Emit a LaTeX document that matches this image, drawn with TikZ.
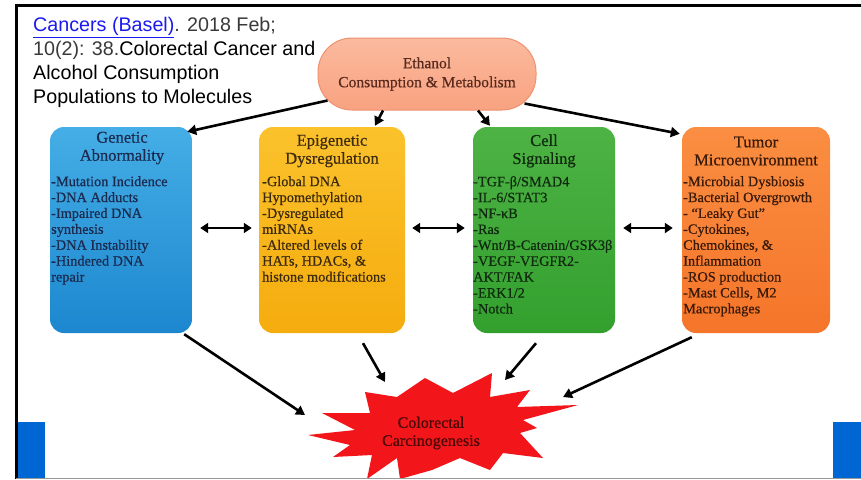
\documentclass[tikz,border=0pt]{standalone}
\usepackage{fontspec}
\setmainfont{Liberation Serif}
\newfontfamily\boxfont[FakeBold=0.5]{Liberation Serif}
\newfontfamily\hdrfont{Liberation Sans}
\usetikzlibrary{arrows.meta,calc}
\definecolor{linkblue}{HTML}{1A1AEE}
\definecolor{hdrgray}{HTML}{3A3A3A}
\definecolor{genTop}{HTML}{45AEE6}
\definecolor{genBot}{HTML}{1C87CF}
\definecolor{genTxt}{HTML}{1B2A4E}
\definecolor{epiTop}{HTML}{FBC22C}
\definecolor{epiBot}{HTML}{F5AC0E}
\definecolor{epiTxt}{HTML}{3B2A0E}
\definecolor{celTop}{HTML}{4DB344}
\definecolor{celBot}{HTML}{33A02E}
\definecolor{celTxt}{HTML}{0F2A0F}
\definecolor{tumTop}{HTML}{FA8E42}
\definecolor{tumBot}{HTML}{F5752A}
\definecolor{tumTxt}{HTML}{3A1A08}
\definecolor{ethTop}{HTML}{FBBA9E}
\definecolor{ethBot}{HTML}{F8A280}
\definecolor{ethLine}{HTML}{EE9270}
\definecolor{ethTxt}{HTML}{5A2A1E}
\definecolor{starRed}{HTML}{F2161A}
\definecolor{starTxt}{HTML}{4A0808}
\definecolor{slideBlue}{HTML}{0066D4}
\begin{document}
\begin{tikzpicture}[x=1pt,y=-1pt,
  catbox/.style={rounded corners=14pt, minimum width=#1, minimum height=206pt, inner sep=0pt},
  cattitle/.style={align=center, inner sep=0pt, font=\boxfont\fontsize{16.5}{18}\selectfont},
  catbody/.style={align=left, anchor=north west, inner sep=0pt, font=\boxfont\fontsize{14.3}{15.9}\selectfont},
  hdr/.style={anchor=base west, inner sep=0pt, font=\hdrfont\fontsize{19.7}{24}\selectfont},
  arr/.style={line width=2.6pt, -{Triangle[length=9pt,width=10pt]}},
  dbl/.style={line width=2.6pt, {Triangle[length=8pt,width=10pt]}-{Triangle[length=8pt,width=10pt]}}
]
\useasboundingbox (0,0) rectangle (861,479);
\fill[white] (0,0) rectangle (861,479);

% slide decoration
\fill[slideBlue] (16,422) rectangle (45,479);
\fill[slideBlue] (833,422) rectangle (861,479);
\draw[line width=2.6pt] (16.5,479) -- (16.5,5.5) -- (861,5.5);

% header
\node[hdr] (h1) at (33,31.5) {\textcolor{linkblue}{\underline{Cancers (Basel)}}\textcolor{hdrgray}{. 2018 Feb;}};
\node[hdr] (h2) at (33,55.5) {\textcolor{hdrgray}{10(2): 38.}Colorectal Cancer and};
\node[hdr] (h3) at (33,79.5) {Alcohol Consumption};
\node[hdr] (h4) at (33,103.5) {Populations to Molecules};

% ethanol
\node[rounded corners=34pt, minimum width=218pt, minimum height=72pt, inner sep=0pt,
      top color=ethTop, bottom color=ethBot, draw=ethLine, line width=1pt,
      align=center, text=ethTxt, font=\boxfont\fontsize{15.5}{19}\selectfont] (eth) at (427,74)
      {Ethanol\\Consumption \& Metabolism};

% category boxes
\node[catbox=142pt, top color=genTop, bottom color=genBot] (gen) at (121,230) {};
\node[catbox=146pt, top color=epiTop, bottom color=epiBot] (epi) at (332,230) {};
\node[catbox=142pt, top color=celTop, bottom color=celBot] (cel) at (544,230) {};
\node[catbox=148pt, top color=tumTop, bottom color=tumBot] (tum) at (756,230) {};

\node[cattitle, text=genTxt] (genT) at (122,148) {Genetic\\Abnormality};
\node[cattitle, text=epiTxt] (epiT) at (332,151) {Epigenetic\\Dysregulation};
\node[cattitle, text=celTxt] (celT) at (544,151) {Cell\\Signaling};
\node[cattitle, text=tumTxt] (tumT) at (756,151) {Tumor\\Microenvironment};

\node[catbody, text=genTxt] (genB) at (51,176) {-Mutation Incidence\\-DNA Adducts\\-Impaired DNA\\synthesis\\-DNA Instability\\-Hindered DNA\\repair};
\node[catbody, text=epiTxt] (epiB) at (262,176) {-Global DNA\\Hypomethylation\\-Dysregulated\\miRNAs\\-Altered levels of\\HATs, HDACs, \&\\histone modifications};
\node[catbody, text=celTxt] (celB) at (473,176) {-TGF-β/SMAD4\\-IL-6/STAT3\\-NF-κB\\-Ras\\-Wnt/B-Catenin/GSK3β\\-VEGF-VEGFR2-\\AKT/FAK\\-ERK1/2\\-Notch};
\node[catbody, text=tumTxt] (tumB) at (683,176) {-Microbial Dysbiosis\\-Bacterial Overgrowth\\- “Leaky Gut”\\-Cytokines,\\Chemokines, \&\\Inflammation\\-ROS production\\-Mast Cells, M2\\Macrophages};

% starburst
\fill[starRed] (308,435) -- (355,430) -- (322,413) -- (370,413) -- (365,392) -- (397,397)
  -- (425,378) -- (453,393) -- (492,373) -- (490,397) -- (530,390) -- (517,407)
  -- (578,405) -- (523,420) -- (537,428) -- (520,433) -- (543,458) -- (503,453)
  -- (490,470) -- (460,458) -- (432,470) -- (400,479) -- (397,458) -- (367,479)
  -- (372,455) -- (333,457) -- (350,445) -- cycle;
\node[align=center, text=starTxt, inner sep=0pt, font=\boxfont\fontsize{16}{18}\selectfont] (crc) at (431,433) {Colorectal\\Carcinogenesis};
\coordinate (sg) at (305,415);
\coordinate (se) at (385,382);
\coordinate (sc) at (505,380);
\coordinate (st) at (563,397);

% arrows from ethanol
\draw[arr] ($(eth.south west)+(10,-10)$) -- ($(gen.north east)+(-5,5)$);
\draw[arr] ($(eth.south)+(-44,0)$) -- ($(epi.north)+(43,-1)$);
\draw[arr] ($(eth.south)+(51,0)$) -- ($(cel.north)+(-54,-1)$);
\draw[arr] ($(eth.south east)+(-12,-7)$) -- ($(tum.north west)+(-2,7)$);

% double arrows
\draw[dbl] ($(gen.east)+(8,-2)$) -- ($(epi.west)+(-7,-2)$);
\draw[dbl] ($(epi.east)+(7,-2)$) -- ($(cel.west)+(-8,-2)$);
\draw[dbl] ($(cel.east)+(8,-2)$) -- ($(tum.west)+(-9,-2)$);

% arrows to carcinogenesis
\draw[arr] ($(gen.south east)+(-8,1)$) -- (sg);
\draw[arr] ($(epi.south)+(31,10)$) -- (se);
\draw[arr] ($(cel.south)+(-8,10)$) -- (sc);
\draw[arr] ($(tum.south west)+(10,4)$) -- (st);

\draw[line width=1.2pt, black!40] (16,478.4) -- (861,478.4);
\end{tikzpicture}
\end{document}
